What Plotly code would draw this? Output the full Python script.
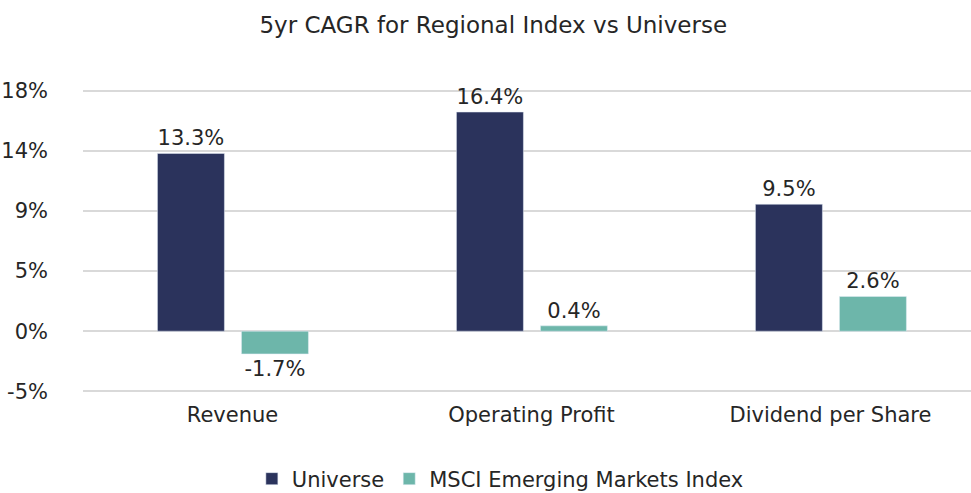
import plotly.graph_objects as go

categories = ["Revenue", "Operating Profit", "Dividend per Share"]
universe = [13.3, 16.4, 9.5]
msci = [-1.7, 0.4, 2.6]
series_names = ["Universe", "MSCI Emerging Markets Index"]
tick_vals = [-4.5, 0, 4.5, 9, 13.5, 18]
tick_text = ["-5%", "0%", "5%", "9%", "14%", "18%"]
title = "5yr CAGR for Regional Index vs Universe"

FONT = "DejaVu Sans"
TXT = "#262626"
FS = 21

fig = go.Figure()
fig.add_trace(go.Bar(
    x=categories, y=universe, name=series_names[0],
    marker_color="#2B335C", width=0.224, offset=-0.251,
    text=[f"{v:.1f}%" for v in universe], textposition="outside",
    textfont=dict(size=FS, color=TXT, family=FONT), cliponaxis=False,
))
fig.add_trace(go.Bar(
    x=categories, y=msci, name=series_names[1],
    marker_color="#6DB6AA", width=0.224, offset=0.030,
    text=[f"{v:.1f}%" for v in msci], textposition="outside",
    textfont=dict(size=FS, color=TXT, family=FONT), cliponaxis=False,
))

fig.update_layout(
    width=971, height=493,
    margin=dict(l=83, r=0, t=88, b=99, autoexpand=False),
    paper_bgcolor="white", plot_bgcolor="white",
    font=dict(family=FONT, size=FS, color=TXT),
    title=dict(text=title, x=0.508, xanchor="center", y=1 - 25 / 493, yanchor="middle",
               font=dict(size=23, color=TXT, family=FONT)),
    barmode="group",
    showlegend=True,
    legend=dict(orientation="h", x=0.47, xanchor="center", y=-(479 - 394) / 306, yanchor="middle",
                font=dict(size=FS, color=TXT, family=FONT), traceorder="normal"),
    xaxis=dict(range=[-0.5, 2.47], showgrid=False, showline=False, ticks="",
               tickfont=dict(size=FS, color=TXT, family=FONT), ticklabelstandoff=6),
    yaxis=dict(range=[-4.7, 18.2], tickvals=tick_vals, ticktext=tick_text,
               showgrid=True, gridcolor="#D9D9D9", gridwidth=2,
               zeroline=True, zerolinecolor="#D9D9D9", zerolinewidth=2,
               showline=False, tickfont=dict(size=FS, color=TXT, family=FONT),
               ticklabelstandoff=34),
)

fig.write_html("out.html", config={"displayModeBar": False},
               post_script="document.body.style.margin='0';")
